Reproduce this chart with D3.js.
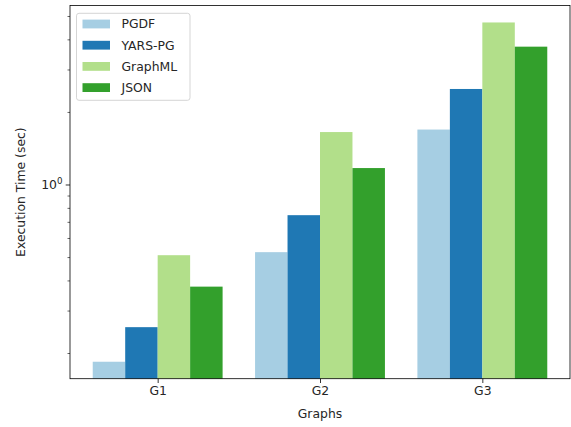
<!DOCTYPE html>
<html>
<head>
<meta charset="utf-8">
<script src="https://cdn.jsdelivr.net/npm/d3@7"></script>
<style>
  html, body { margin: 0; padding: 0; background: #fff; }
  svg { display: block; font-family: "DejaVu Sans", sans-serif; }
</style>
</head>
<body>
<svg id="chart" width="571" height="427"></svg>
<script>
// Execution time per graph and serialization format (seconds, log scale)
const graphs = ["G1", "G2", "G3"];
const formats = ["PGDF", "YARS-PG", "GraphML", "JSON"];
const colors = ["#a6cee3", "#1f78b4", "#b2df8a", "#33a02c"];
const pgdf    = [0.184, 0.524, 1.69];
const yarspg  = [0.256, 0.746, 2.49];
const graphml = [0.509, 1.65, 4.70];
const json    = [0.377, 1.17, 3.73];
const seriesValues = [pgdf, yarspg, graphml, json];
const majorTicks = [1];
const minorTicks = [0.2, 0.3, 0.4, 0.5, 0.6, 0.7, 0.8, 0.9, 2, 3, 4, 5];

const svg = d3.select("#chart");
const plot = { left: 70, right: 570, top: 5.5, bottom: 378.7 };

// x: one unit per graph, bars occupy 0.8 of a unit, 5% padding on each side
const barW = 0.2;
const xMin = -0.4, xMax = graphs.length - 1 + 0.4;
const xPad = (xMax - xMin) * 0.05;
const x = d3.scaleLinear()
  .domain([xMin - xPad, xMax + xPad])
  .range([plot.left, plot.right]);

// y: log scale with 5% padding (in log space) around the data
const all = seriesValues.flat();
const lmin = Math.log10(d3.min(all)), lmax = Math.log10(d3.max(all));
const lpad = (lmax - lmin) * 0.05;
const y = d3.scaleLog()
  .domain([Math.pow(10, lmin - lpad), Math.pow(10, lmax + lpad)])
  .range([plot.bottom, plot.top]);

// bars
const bars = svg.append("g");
seriesValues.forEach((vals, s) => {
  bars.selectAll(null)
    .data(vals)
    .enter().append("rect")
    .attr("x", (d, i) => x(i - 0.4 + s * barW))
    .attr("width", x(barW) - x(0))
    .attr("y", d => y(d))
    .attr("height", d => plot.bottom - y(d))
    .attr("fill", colors[s]);
});

// x axis
const xAxis = d3.axisBottom(x)
  .tickValues(d3.range(graphs.length))
  .tickFormat(i => graphs[i])
  .tickSize(4.3)
  .tickPadding(3.5);
const gx = svg.append("g")
  .attr("transform", `translate(0,${plot.bottom})`)
  .call(xAxis);
gx.select(".domain").remove();
gx.selectAll("line").attr("stroke", "#000").attr("stroke-width", 0.8);
gx.selectAll("text").attr("font-size", 12.4).attr("fill", "#262626")
  .attr("font-family", "DejaVu Sans");

// y axis: major ticks with 10^n labels, minor ticks unlabeled
const yMinor = d3.axisLeft(y).tickValues(minorTicks).tickSize(2.5).tickFormat("");
const gyMinor = svg.append("g").attr("transform", `translate(${plot.left},0)`).call(yMinor);
gyMinor.select(".domain").remove();
gyMinor.selectAll("line").attr("stroke", "#000").attr("stroke-width", 0.6);

const yMajor = d3.axisLeft(y).tickValues(majorTicks).tickSize(4.3).tickFormat("");
const gyMajor = svg.append("g").attr("transform", `translate(${plot.left},0)`).call(yMajor);
gyMajor.select(".domain").remove();
gyMajor.selectAll("line").attr("stroke", "#000").attr("stroke-width", 0.8);
majorTicks.forEach(v => {
  const t = svg.append("text")
    .attr("x", plot.left - 7.5)
    .attr("y", y(v) + 4.5)
    .attr("text-anchor", "end")
    .attr("font-size", 12.4)
    .attr("fill", "#262626");
  t.append("tspan").text("10");
  t.append("tspan").attr("dy", -5).attr("font-size", 8.7).text(Math.round(Math.log10(v)));
});

// frame
svg.append("rect")
  .attr("x", plot.left).attr("y", plot.top)
  .attr("width", plot.right - plot.left).attr("height", plot.bottom - plot.top)
  .attr("fill", "none").attr("stroke", "#000").attr("stroke-width", 0.8);

// axis titles
svg.append("text")
  .attr("x", (plot.left + plot.right) / 2).attr("y", 418)
  .attr("text-anchor", "middle").attr("font-size", 12.4).attr("fill", "#262626")
  .text("Graphs");
svg.append("text")
  .attr("transform", `translate(25,${(plot.top + plot.bottom) / 2}) rotate(-90)`)
  .attr("text-anchor", "middle").attr("font-size", 12.4).attr("fill", "#262626")
  .text("Execution Time (sec)");

// legend
const lg = svg.append("g");
lg.append("rect")
  .attr("x", 76.5).attr("y", 13.3).attr("width", 113.5).attr("height", 87)
  .attr("rx", 2.5).attr("fill", "#fff").attr("fill-opacity", 0.8)
  .attr("stroke", "#d0d0d0").attr("stroke-width", 0.9);
formats.forEach((f, s) => {
  const cy = 24 + s * 21.2;
  lg.append("rect")
    .attr("x", 82.5).attr("y", cy - 4.4).attr("width", 27.5).attr("height", 8.8)
    .attr("fill", colors[s]);
  lg.append("text")
    .attr("x", 121.5).attr("y", cy + 4.4)
    .attr("font-size", 12.4).attr("fill", "#262626")
    .text(f);
});
</script>
</body>
</html>
